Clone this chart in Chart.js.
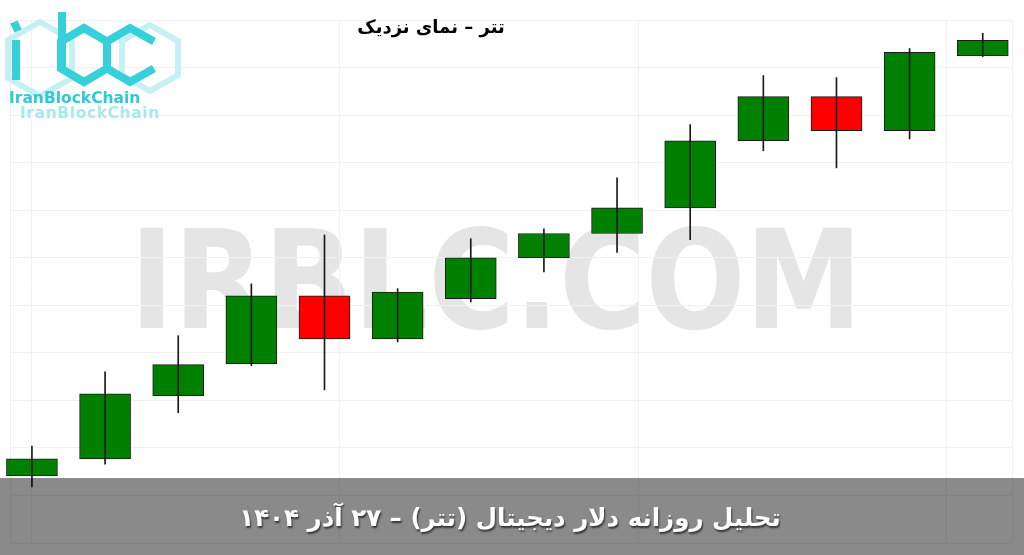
<!DOCTYPE html>
<html>
<head>
<meta charset="utf-8">
<script src="https://cdn.jsdelivr.net/npm/chart.js@4.4.1/dist/chart.umd.min.js"></script>
<style>
html, body { margin: 0; padding: 0; background: #fff; }
#wrap { position: relative; width: 1024px; height: 555px; overflow: hidden; }
#mark { position: absolute; left: 130px; top: 212px; font: bold 137px "DejaVu Sans", sans-serif; line-height: 1;
        color: #e5e5e5; white-space: nowrap; transform-origin: 0 0; }
#chart { position: absolute; left: 0; top: 0; }
#logo { position: absolute; left: 0; top: 0; }
#title { position: absolute; left: 281px; top: 18px; width: 300px; text-align: center; direction: rtl;
         font: bold 18px "DejaVu Sans", sans-serif; line-height: 1; color: #000; }
#banner { position: absolute; left: 0; top: 478px; width: 1024px; height: 77px; background: rgba(0,0,0,0.46); }
#banner div { position: absolute; left: 0; top: 28px; width: 1020px; text-align: center; direction: rtl;
              font: bold 24.5px "DejaVu Sans", sans-serif; line-height: 1; color: #fff; text-shadow: 1px 2px 2px #333; }
</style>
</head>
<body>
<div id="wrap">
  <div id="mark">IRBLC.COM</div>
  <canvas id="chart" width="1024" height="555"></canvas>
  <svg id="logo" width="200" height="125" viewBox="0 0 200 125">
    <g fill="none" stroke="#c6f1f4" stroke-width="6" stroke-linejoin="miter">
      <polygon points="40,22 72,40 72,78 40,96 8,78 8,40"/>
      <polygon points="150,25 178,41 178,75 150,91 122,75 122,41"/>
    </g>
    <g fill="none" stroke="#35d0da" stroke-width="8" stroke-linejoin="miter">
      <line x1="14" y1="22" x2="18" y2="31"/>
      <line x1="16" y1="40" x2="16" y2="80"/>
      <line x1="62" y1="12" x2="62" y2="68"/>
      <polygon points="84,28 107,41.5 107,68.5 84,82 61,68.5 61,41.5"/>
      <polyline points="154,41.5 130,28 107,41.5 107,68.5 130,82 154,68.5"/>
    </g>
    <text x="9" y="103" font-family="DejaVu Sans" font-weight="bold" font-size="15.5" fill="#33c9d4">IranBlockChain</text>
    <text x="20" y="118" font-family="DejaVu Sans" font-weight="bold" font-size="15.5" fill="#a8e9ee" letter-spacing="0.6">IranBlockChain</text>
  </svg>
  <div id="title">تتر – نمای نزدیک</div>
  <div id="banner"><div>تحلیل روزانه دلار دیجیتال (تتر) – ۲۷ آذر ۱۴۰۴</div></div>
</div>
<script>
// candle data (toman)
const candleIndex = [0, 1, 2, 3, 4, 5, 6, 7, 8, 9, 10, 11, 12, 13];
const opens  = [125410, 125770, 127100, 127770, 129200, 128290, 129140, 130000, 130510, 131050, 132460, 133390, 132670, 134250];
const highs  = [126040, 127600, 128360, 129450, 130480, 129350, 130400, 130610, 131680, 132800, 133830, 133790, 134400, 134720];
const lows   = [125180, 125660, 126740, 127730, 127220, 128230, 129070, 129700, 130110, 130380, 132250, 131890, 132500, 134230];
const closes = [125770, 127140, 127750, 129200, 128290, 129280, 130000, 130510, 131050, 132460, 133390, 132670, 134320, 134570];

// vertical grid positions (in candle units)
const xGridTicks = [0, 4.2, 8.3, 12.5, 13.4];

// stretch watermark to its width in the picture
const mark = document.getElementById('mark');
mark.style.transform = 'scaleX(' + (732 / mark.offsetWidth) + ')';

const bodyColors = opens.map((o, i) => closes[i] >= o ? '#008000' : '#ff0000');

const ctx = document.getElementById('chart').getContext('2d');
new Chart(ctx, {
    type: 'bar',
    data: {
        datasets: [{
            label: 'wick',
            order: 0,
            data: candleIndex.map((x, i) => ({ x: x, y: [lows[i], highs[i]] })),
            backgroundColor: '#1a1a1a',
            borderWidth: 0,
            barThickness: 1,
            grouped: false,
            clip: false
        }, {
            label: 'body',
            order: 1,
            data: candleIndex.map((x, i) => ({ x: x, y: [opens[i], closes[i]] })),
            backgroundColor: bodyColors,
            borderColor: '#1a1a1a',
            borderWidth: 1,
            borderSkipped: false,
            barThickness: 51,
            grouped: false,
            clip: false
        }]
    },
    options: {
        responsive: false,
        animation: false,
        layout: { padding: { left: 10, right: 12, top: 20, bottom: 12 } },
        plugins: { legend: { display: false }, tooltip: { enabled: false } },
        scales: {
            x: {
                type: 'linear',
                offset: false,
                min: -0.3,
                max: 13.4,
                afterBuildTicks: function(scale) {
                    scale.ticks = xGridTicks.map(v => ({ value: v }));
                },
                ticks: { display: false },
                grid: { color: '#f1f1f1', drawTicks: false, offset: false },
                border: { display: false }
            },
            y: {
                min: 124000,
                max: 135000,
                ticks: { display: false, stepSize: 1000 },
                grid: { color: '#f1f1f1', drawTicks: false },
                border: { display: true, color: '#eeeeee' }
            }
        }
    }
});
</script>
</body>
</html>
